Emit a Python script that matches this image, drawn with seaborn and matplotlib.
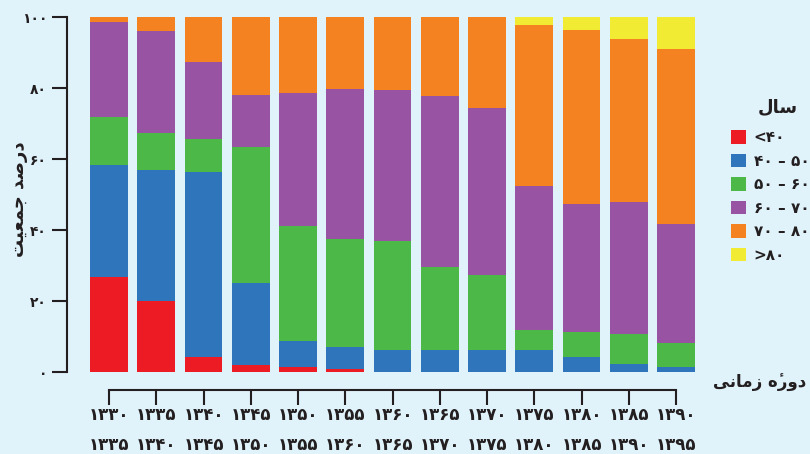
import numpy as np
import pandas as pd
import matplotlib
matplotlib.use("Agg")
import matplotlib.pyplot as plt
import seaborn as sns
from matplotlib.patches import Patch

# periods (Persian years) - two-line tick labels
start_labels = ["۱۳۳۰", "۱۳۳۵", "۱۳۴۰", "۱۳۴۵", "۱۳۵۰", "۱۳۵۵", "۱۳۶۰",
                "۱۳۶۵", "۱۳۷۰", "۱۳۷۵", "۱۳۸۰", "۱۳۸۵", "۱۳۹۰"]
end_labels = ["۱۳۳۵", "۱۳۴۰", "۱۳۴۵", "۱۳۵۰", "۱۳۵۵", "۱۳۶۰", "۱۳۶۵",
              "۱۳۷۰", "۱۳۷۵", "۱۳۸۰", "۱۳۸۵", "۱۳۹۰", "۱۳۹۵"]

# percentage of population per age group
age_lt40 = [26.8, 20.0, 4.3, 2.0, 1.5, 0.9, 0, 0, 0, 0, 0, 0, 0]
age_40_50 = [31.6, 37.0, 52.1, 23.2, 7.3, 6.2, 6.3, 6.3, 6.3, 6.3, 4.3, 2.3, 1.5]
age_50_60 = [13.5, 10.4, 9.3, 38.2, 32.4, 30.5, 30.7, 23.4, 21.1, 5.6, 7.1, 8.5, 6.8]
age_60_70 = [26.8, 28.8, 21.7, 14.7, 37.5, 42.2, 42.5, 48.1, 47.0, 40.6, 36.0, 37.2, 33.5]
age_70_80 = [1.3, 3.8, 12.6, 21.9, 21.3, 20.2, 20.5, 22.2, 25.6, 45.3, 49.1, 45.9, 49.3]
age_gt80 = [0, 0, 0, 0, 0, 0, 0, 0, 0, 2.2, 3.5, 6.1, 8.9]

group_labels = ["<۴۰", "۴۰ – ۵۰", "۵۰ – ۶۰", "۶۰ – ۷۰", "۷۰ – ۸۰", ">۸۰"]
colors = ["#ed1c24", "#2e75bb", "#4cb848", "#9853a2", "#f58220", "#f2eb33"]
ytick_labels = ["۰", "۲۰", "۴۰", "۶۰", "۸۰", "۱۰۰"]

# Persian words written in visual (shaped, left-to-right) order
title_legend = "\uFEDD\uFE8E\uFEB3"                                          # سال
ylabel = "\uFE96\uFEF4\uFECC\uFEE4\uFE9F \uFEAA\uFEBB\uFEAD\uFEA9"           # درصد جمعیت
xlabel = "\uFEF0\uFEE7\uFE8E\uFEE3\uFEAF \uFEE9\u0654\uFEAD\uFEED\uFEA9"     # دورهٔ زمانی

bg = "#e0f2fa"
ink = "#231f20"

sns.set_style("ticks", {"axes.facecolor": bg, "figure.facecolor": bg})
plt.rcParams["font.family"] = ["DejaVu Sans"]

periods = [s + "\n" + e for s, e in zip(start_labels, end_labels)]
groups = [age_lt40, age_40_50, age_50_60, age_60_70, age_70_80, age_gt80]
cum = np.cumsum(np.array(groups), axis=0)

fig = plt.figure(figsize=(8.1, 4.54), dpi=100)
ax = fig.add_axes([0.1054, 0.18, 0.7584, 0.782])

# stacked bars: draw from the top of the stack down
for i in range(len(groups) - 1, -1, -1):
    df = pd.DataFrame({"period": periods, "value": cum[i]})
    sns.barplot(data=df, x="period", y="value", color=colors[i],
                saturation=1, width=0.8, edgecolor="none", linewidth=0, ax=ax)

ax.set_ylim(0, 100)
ax.set_xlim(-0.5, len(periods) - 0.5)
ax.set_yticks([0, 20, 40, 60, 80, 100])
ax.set_yticklabels(ytick_labels)
ax.set_xlabel("")
ax.set_ylabel("")

sns.despine(ax=ax, top=True, right=True)
for side in ["left", "bottom"]:
    ax.spines[side].set_position(("outward", 13))
    ax.spines[side].set_linewidth(1.5)
    ax.spines[side].set_color(ink)
ax.spines["left"].set_bounds(0, 100)
ax.spines["bottom"].set_bounds(0, len(periods) - 1)

ax.tick_params(axis="both", direction="out", length=10.5, width=1.5,
               color=ink, labelcolor=ink)
ax.tick_params(axis="y", labelsize=10, pad=4)
ax.tick_params(axis="x", labelsize=12, pad=1)
for t in ax.get_xticklabels():
    t.set_fontweight("bold")
    t.set_linespacing(1.8)
for t in ax.get_yticklabels():
    t.set_fontweight("bold")

fig.text(0.024, 0.562, ylabel, fontsize=13, fontweight="bold", color=ink,
         rotation=90, ha="center", va="center")
fig.text(0.880, 0.157, xlabel, fontsize=12, fontweight="bold", color=ink,
         ha="left", va="center")
fig.text(0.960, 0.764, title_legend, fontsize=13, fontweight="bold", color=ink,
         ha="center", va="center")

handles = [Patch(facecolor=c, edgecolor="none") for c in colors]
leg = fig.legend(handles, group_labels, loc="upper left",
                 bbox_to_anchor=(0.902, 0.713), frameon=False, fontsize=11,
                 handlelength=1.0, handleheight=1.0,
                 labelspacing=0.55, handletextpad=0.5, borderaxespad=0,
                 borderpad=0)
plt.setp(leg.get_texts(), color=ink, fontweight="bold")

fig.savefig("out.png", dpi=100, facecolor=bg)
